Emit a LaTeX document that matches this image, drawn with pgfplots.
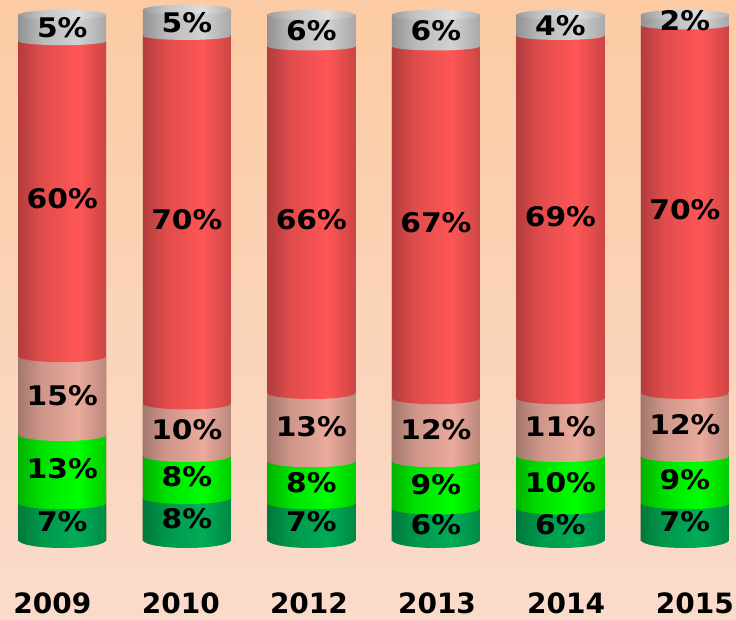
\documentclass[border=0pt]{standalone}
\usepackage{pgfplots}
\pgfplotsset{compat=1.18}
\usepackage{fontspec}
\setmainfont{DejaVu Sans}
\newfontfamily\labfont[FakeStretch=1.1]{DejaVu Sans}

\definecolor{bgtop}{RGB}{252,203,163}
\definecolor{bgbot}{RGB}{250,219,203}
\definecolor{dgreen}{RGB}{0,172,86}
\definecolor{bgreen}{RGB}{0,255,0}
\definecolor{pinkc}{RGB}{234,170,156}
\definecolor{redc}{RGB}{255,86,86}
\definecolor{grayc}{RGB}{210,210,210}
\definecolor{grayt}{RGB}{222,222,222}

% shading + elliptic cap mark for each colour
\newcommand\declcyl[2]{%
  \pgfdeclarehorizontalshading{sh#1}{100bp}{color(0bp)=(#2!70!black); color(25bp)=(#2!70!black); color(38bp)=(#2!88!black); color(59bp)=(#2); color(75bp)=(#2!80!black); color(100bp)=(#2!80!black)}%
  \pgfdeclareplotmark{cap#1}{\pgfpathellipse{\pgfpointorigin}{\pgfpoint{43.9pt}{0pt}}{\pgfpoint{0pt}{\pgfplotmarksize}}\pgfshadepath{sh#1}{0}\pgfusepath{discard}}%
}
\declcyl{DG}{dgreen}
\declcyl{BG}{bgreen}
\declcyl{PK}{pinkc}
\declcyl{RD}{redc}
\declcyl{GR}{grayc}
\declcyl{GT}{grayt}

% one cylinder: x, dark green, bright green, pink, red, grey
\newcommand\yearbar[6]{%
  \pgfmathsetmacro\cA{#2}%
  \pgfmathsetmacro\cB{#2+#3}%
  \pgfmathsetmacro\cC{#2+#3+#4}%
  \pgfmathsetmacro\cD{#2+#3+#4+#5}%
  \pgfmathsetmacro\cE{#2+#3+#4+#5+#6}%
  \addplot[only marks, mark=capGT, mark size=5pt] coordinates {(#1,\cE)};
  \addplot[cyl=GR] coordinates {(#1,\cE)};
  \addplot[cyl=RD] coordinates {(#1,\cD)};
  \addplot[only marks, mark=capGR, mark size=4pt] coordinates {(#1,\cD)};
  \addplot[cyl=PK] coordinates {(#1,\cC)};
  \addplot[only marks, mark=capRD, mark size=6pt] coordinates {(#1,\cC)};
  \addplot[cyl=BG] coordinates {(#1,\cB)};
  \addplot[only marks, mark=capPK, mark size=6pt] coordinates {(#1,\cB)};
  \addplot[cyl=DG] coordinates {(#1,\cA)};
  \addplot[only marks, mark=capBG, mark size=6pt] coordinates {(#1,\cA)};
  \addplot[only marks, mark=capDG, mark size=8pt] coordinates {(#1,0)};
}
\newcommand\yearlabels[6]{%
  \pgfmathsetmacro\mA{#2/2}%
  \pgfmathsetmacro\mB{#2+#3/2}%
  \pgfmathsetmacro\mC{#2+#3+#4/2}%
  \pgfmathsetmacro\mD{#2+#3+#4+#5/2}%
  \pgfmathsetmacro\mE{#2+#3+#4+#5+#6/2}%
  \addplot[draw=none, mark=none, point meta=explicit symbolic, nodes near coords,
    every node near coord/.append style={anchor=center, font=\labfont\fontsize{27}{27}\selectfont\bfseries, text=black}]
    coordinates {(#1,\mA)[#2\%] (#1,\mB)[#3\%] (#1,\mC)[#4\%] (#1,\mD)[#5\%] (#1,\mE)[#6\%]};
}

\begin{document}
\begin{tikzpicture}
\useasboundingbox (0,0) rectangle (736pt,619pt);
\shade[top color=bgtop, bottom color=bgbot] (0,0) rectangle (736pt,619pt);
\begin{axis}[
  at={(0pt,79pt)}, anchor=south west,
  scale only axis, width=736pt, height=534pt,
  xmin=-0.5, xmax=5.41, ymin=0, ymax=101.7,
  axis line style={draw=none}, tick style={draw=none},
  ytick=\empty, xtick={-0.08,0.953,1.981,3.009,4.045,5.08},
  xticklabels={2009,2010,2012,2013,2014,2015},
  xticklabel style={anchor=base, yshift=-73pt, font=\fontsize{28}{28}\selectfont\bfseries},
  clip=false,
  cyl/.style={ybar, bar width=0.706, bar shift=0pt, draw=none, shade, shading=sh#1},
]
\yearbar{0}{7}{13}{15}{60}{5}
\yearbar{1}{8}{8}{10}{70}{5}
\yearbar{2}{7}{8}{13}{66}{6}
\yearbar{3}{6}{9}{12}{67}{6}
\yearbar{4}{6}{10}{11}{69}{4}
\yearbar{5}{7}{9}{12}{70}{2}
\yearlabels{0}{7}{13}{15}{60}{5}
\yearlabels{1}{8}{8}{10}{70}{5}
\yearlabels{2}{7}{8}{13}{66}{6}
\yearlabels{3}{6}{9}{12}{67}{6}
\yearlabels{4}{6}{10}{11}{69}{4}
\yearlabels{5}{7}{9}{12}{70}{2}
\end{axis}
\end{tikzpicture}
\end{document}
